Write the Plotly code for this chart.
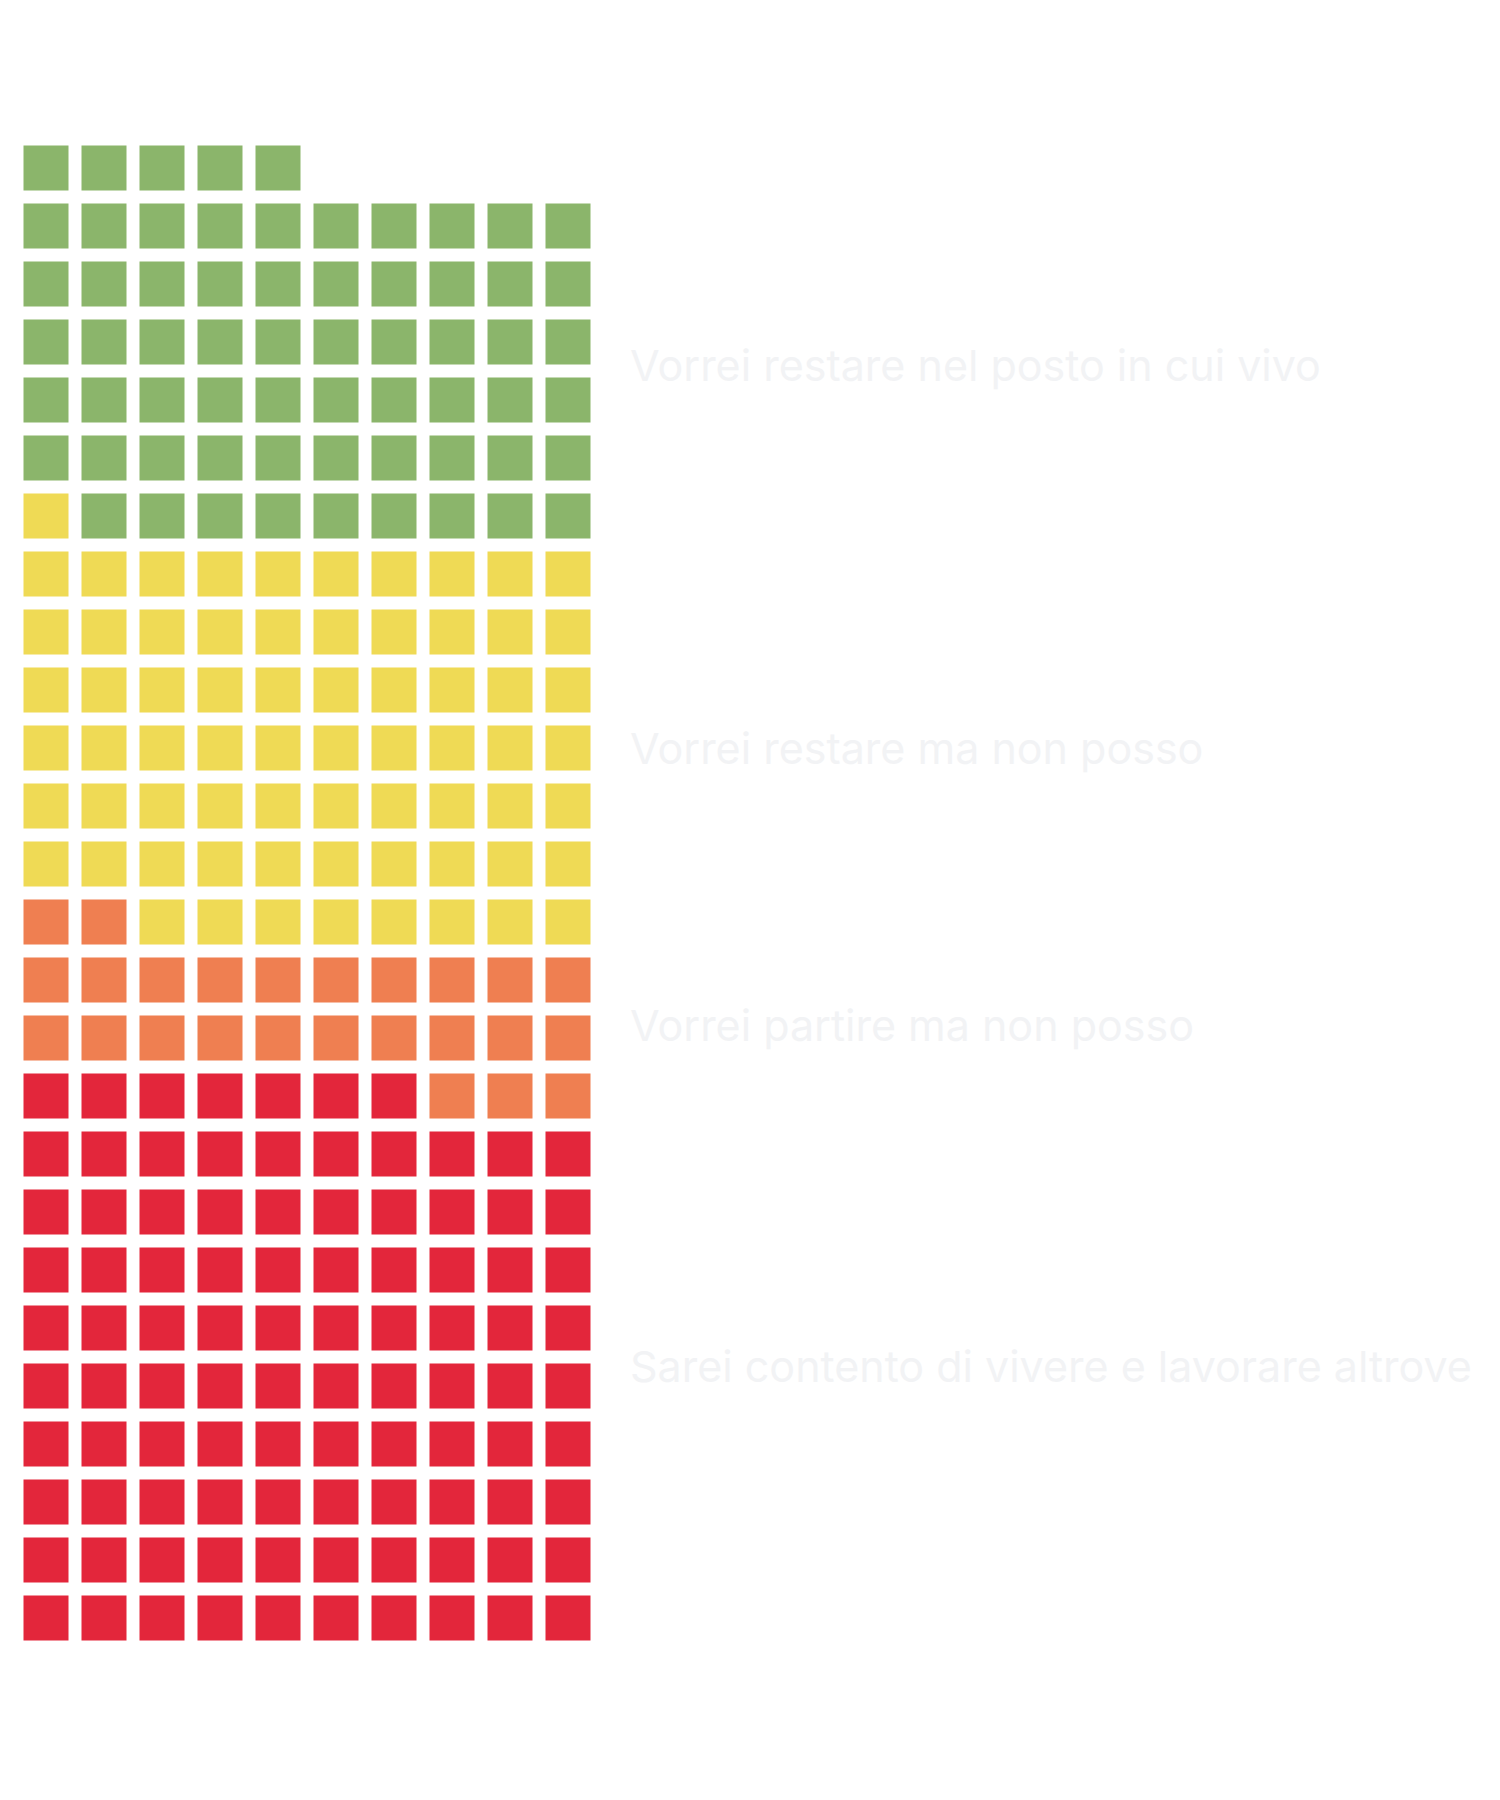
import plotly.graph_objects as go

# ---- data ----
categories = [
    "Sarei contento di vivere e lavorare altrove",
    "Vorrei partire ma non posso",
    "Vorrei restare ma non posso",
    "Vorrei restare nel posto in cui vivo",
]
counts = [97, 25, 69, 64]
colors = ["#E3263B", "#EF7F51", "#EFDA55", "#8BB56B"]
n_cols = 10

# ---- layout constants (pixels) ----
W, H = 1500, 1800
pitch = 58.0          # cell pitch in px
cell = 45             # square side in px
x0_px = 46.0          # centre of first column from left
y0_px = 1618.0        # centre of bottom row from top
label_x_px = 628
label_rows = [4.34, 10.22, 15.0, 21.6]  # label vertical positions in row units

fig = go.Figure()
start = 0
for cat, n, col in zip(categories, counts, colors):
    idx = list(range(start, start + n))
    xs = [i % n_cols for i in idx]
    ys = [i // n_cols for i in idx]
    fig.add_trace(go.Scatter(
        x=xs, y=ys, mode="markers", name=cat,
        marker=dict(symbol="square", size=cell, color=col, line=dict(width=0)),
        hoverinfo="name",
    ))
    start += n

for cat, ly in zip(categories, label_rows):
    fig.add_annotation(
        x=label_x_px / W, xref="paper", y=ly, yref="y",
        text=cat, showarrow=False, xanchor="left", yanchor="middle",
        font=dict(family="Inter, Lato, sans-serif", size=43, color="#F2F3F5"),
    )

fig.update_layout(
    width=W, height=H,
    margin=dict(l=0, r=0, t=0, b=0),
    paper_bgcolor="white", plot_bgcolor="white",
    showlegend=False,
    xaxis=dict(range=[-x0_px / pitch, (W - x0_px) / pitch], visible=False, fixedrange=True),
    yaxis=dict(range=[-(H - y0_px) / pitch, y0_px / pitch], visible=False, fixedrange=True),
)

fig.write_html(
    "out.html",
    config={"displayModeBar": False},
    post_script="document.body.style.margin='0';document.body.style.overflow='hidden';",
)
